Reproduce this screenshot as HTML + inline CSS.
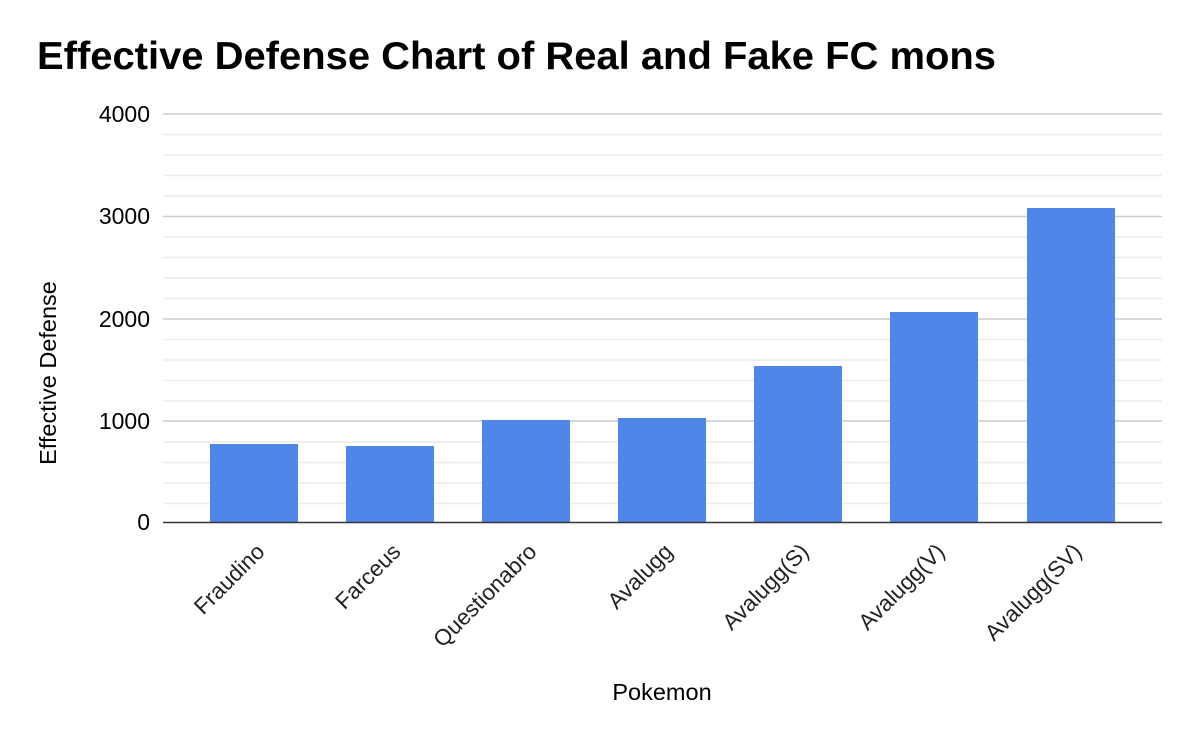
<!DOCTYPE html>
<html><head><style>body{margin:0;background:#fff}</style></head><body>
<svg width="1200" height="742" xmlns="http://www.w3.org/2000/svg" font-family="Liberation Sans, Arial, sans-serif">
<rect width="1200" height="742" fill="#fff"/>
<text x="37" y="69" font-size="39" font-weight="bold" fill="#000" textLength="959" lengthAdjust="spacingAndGlyphs">Effective Defense Chart of Real and Fake FC mons</text>
<g stroke="#ebebeb" stroke-width="1.5">
<line x1="163" x2="1162" y1="134.5" y2="134.5"/><line x1="163" x2="1162" y1="155" y2="155"/><line x1="163" x2="1162" y1="175.5" y2="175.5"/><line x1="163" x2="1162" y1="196" y2="196"/>
<line x1="163" x2="1162" y1="237" y2="237"/><line x1="163" x2="1162" y1="257.5" y2="257.5"/><line x1="163" x2="1162" y1="278" y2="278"/><line x1="163" x2="1162" y1="298.5" y2="298.5"/>
<line x1="163" x2="1162" y1="339.5" y2="339.5"/><line x1="163" x2="1162" y1="360" y2="360"/><line x1="163" x2="1162" y1="380.5" y2="380.5"/><line x1="163" x2="1162" y1="401" y2="401"/>
<line x1="163" x2="1162" y1="442" y2="442"/><line x1="163" x2="1162" y1="462.5" y2="462.5"/><line x1="163" x2="1162" y1="483" y2="483"/><line x1="163" x2="1162" y1="503.5" y2="503.5"/>
</g>
<g stroke="#cccccc" stroke-width="1.5">
<line x1="163" x2="1162" y1="114" y2="114"/><line x1="163" x2="1162" y1="216.5" y2="216.5"/><line x1="163" x2="1162" y1="319" y2="319"/><line x1="163" x2="1162" y1="421" y2="421"/>
</g>
<g fill="#4f86e8">
<rect x="210" y="444" width="88" height="78"/>
<rect x="346" y="446" width="88" height="76"/>
<rect x="482" y="420" width="88" height="102"/>
<rect x="618" y="418" width="88" height="104"/>
<rect x="754" y="366" width="88" height="156"/>
<rect x="890" y="312" width="88" height="210"/>
<rect x="1027" y="208" width="88" height="314"/>
</g>
<line x1="163" x2="1162" y1="522.5" y2="522.5" stroke="#333" stroke-width="1.5"/>
<g font-size="23" fill="#000" text-anchor="end">
<text x="150" y="122">4000</text><text x="150" y="224">3000</text><text x="150" y="327">2000</text><text x="150" y="429">1000</text><text x="150" y="530">0</text>
</g>
<g font-size="22.5" fill="#222" text-anchor="end">
<text transform="translate(266,553) rotate(-45)">Fraudino</text>
<text transform="translate(402,553) rotate(-45)">Farceus</text>
<text transform="translate(538,553) rotate(-45)">Questionabro</text>
<text transform="translate(674,553) rotate(-45)">Avalugg</text>
<text transform="translate(810,553) rotate(-45)">Avalugg(S)</text>
<text transform="translate(946,553) rotate(-45)">Avalugg(V)</text>
<text transform="translate(1083,553) rotate(-45)">Avalugg(SV)</text>
</g>
<text x="662" y="700" font-size="23.5" text-anchor="middle" fill="#000">Pokemon</text>
<text transform="translate(56,373) rotate(-90)" font-size="23.5" text-anchor="middle" fill="#000">Effective Defense</text>
</svg>
</body></html>
